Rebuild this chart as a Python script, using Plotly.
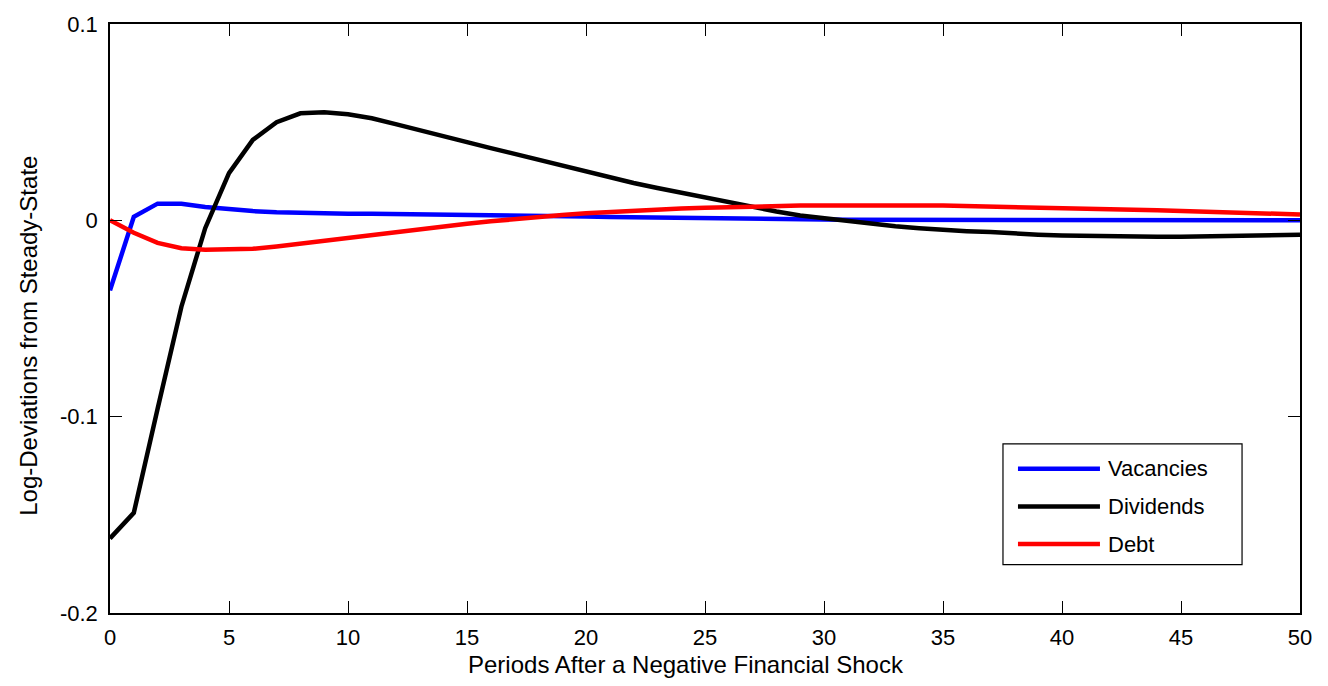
import plotly.graph_objects as go

# Impulse responses after a negative financial shock (log-deviations from steady state)
periods = list(range(0, 51))

vacancies = [
    -0.0357, 0.0018, 0.0085, 0.0084, 0.0068, 0.0056, 0.0047, 0.0041, 0.0037, 0.0035,
    0.0034, 0.0033, 0.0032, 0.0031, 0.0030, 0.0029, 0.0027, 0.0025, 0.0023, 0.0021,
    0.0019, 0.0017, 0.0015, 0.0013, 0.0011, 0.0009, 0.0008, 0.0007, 0.0006, 0.0005,
    0.0004, 0.0003, 0.0003, 0.0002, 0.0002, 0.0001, 0.0001, 0.0000, 0.0000, -0.0001,
    -0.0001, -0.0001, -0.0001, -0.0001, -0.0001, -0.0001, 0.0000, 0.0000, 0.0000, 0.0000,
    0.0000,
]

dividends = [
    -0.162, -0.149, -0.096, -0.044, -0.004, 0.024, 0.041, 0.050, 0.0545, 0.055,
    0.054, 0.052, 0.049, 0.0458, 0.0428, 0.0398, 0.0368, 0.0338, 0.031, 0.028,
    0.025, 0.022, 0.019, 0.0165, 0.014, 0.0115, 0.009, 0.007, 0.0045, 0.0025,
    0.001, -0.0005, -0.002, -0.003, -0.004, -0.005, -0.0055, -0.006, -0.0068, -0.0073,
    -0.0077, -0.008, -0.0083, -0.0084, -0.0084, -0.0083, -0.0082, -0.008, -0.0078, -0.0076,
    -0.0074,
]

debt = [
    0.0, -0.0063, -0.0115, -0.0142, -0.015, -0.015, -0.0145, -0.0133, -0.0118, -0.0102,
    -0.0087, -0.0072, -0.0058, -0.0045, -0.003, -0.0017, -0.0005, 0.0007, 0.0018, 0.0027,
    0.0036, 0.0043, 0.005, 0.0055, 0.006, 0.0064, 0.0068, 0.0071, 0.0073, 0.0075,
    0.0076, 0.0077, 0.0077, 0.0077, 0.0076, 0.0075, 0.0073, 0.0071, 0.0069, 0.0066,
    0.0063, 0.006, 0.0057, 0.0054, 0.0051, 0.0047, 0.0044, 0.0041, 0.0037, 0.0033,
    0.003,
]

series_names = ["Vacancies", "Dividends", "Debt"]
series_colors = ["#0000ff", "#000000", "#ff0000"]

x_ticks = [0, 5, 10, 15, 20, 25, 30, 35, 40, 45, 50]
y_tickvals = [-0.2, -0.1, 0, 0.1]
y_ticktext = ["-0.2", "-0.1", "0", "0.1"]

x_title = "Periods After a Negative Financial Shock"
y_title = "Log-Deviations from Steady-State"

FONT = "Liberation Sans, Arial, sans-serif"

fig = go.Figure()
for name, ys, col in zip(series_names, [vacancies, dividends, debt], series_colors):
    fig.add_trace(go.Scatter(
        x=periods, y=ys, mode="lines", name=name,
        line=dict(color=col, width=4.5), showlegend=False,
    ))

axis_common = dict(
    showgrid=False, zeroline=False,
    showline=True, linecolor="black", linewidth=1.5, mirror="ticks",
    ticks="inside", ticklen=12, tickcolor="black", tickwidth=1,
    tickfont=dict(family=FONT, size=22, color="black"),
)

fig.update_xaxes(range=[0, 50], tickvals=x_ticks, ticklabelstandoff=4, **axis_common)
fig.update_yaxes(range=[-0.2, 0.1], tickvals=y_tickvals, ticktext=y_ticktext,
                 ticklabelstandoff=6, **axis_common)

# Axis titles placed as annotations relative to the plot area
fig.add_annotation(xref="paper", yref="paper", x=0.484, y=-0.0875,
                   text=x_title, showarrow=False, xanchor="center", yanchor="middle",
                   font=dict(family=FONT, size=24, color="black"))
fig.add_annotation(xref="paper", yref="paper", x=-0.0685, y=0.4715,
                   text=y_title, showarrow=False, textangle=-90,
                   xanchor="center", yanchor="middle",
                   font=dict(family=FONT, size=24, color="black"))

# Boxed legend in the lower right of the plotting area (paper coords = plot area)
fig.add_shape(type="rect", xref="paper", yref="paper",
              x0=0.7504, x1=0.9513, y0=0.0822, y1=0.287,
              line=dict(color="black", width=1.2), fillcolor="white")
row_y = [0.245, 0.181, 0.117]
for name, col, yy in zip(series_names, series_colors, row_y):
    fig.add_shape(type="line", xref="paper", yref="paper",
                  x0=0.7630, x1=0.8319, y0=yy, y1=yy,
                  line=dict(color=col, width=4.5))
    fig.add_annotation(xref="paper", yref="paper", x=0.8370, y=yy,
                       text=name, showarrow=False, xanchor="left", yanchor="middle",
                       font=dict(family=FONT, size=22, color="black"))

fig.update_layout(
    width=1328, height=686,
    margin=dict(l=110, r=28, t=17, b=73),
    paper_bgcolor="white", plot_bgcolor="white",
    font=dict(family=FONT, color="black"),
)

fig.write_html("out.html")
